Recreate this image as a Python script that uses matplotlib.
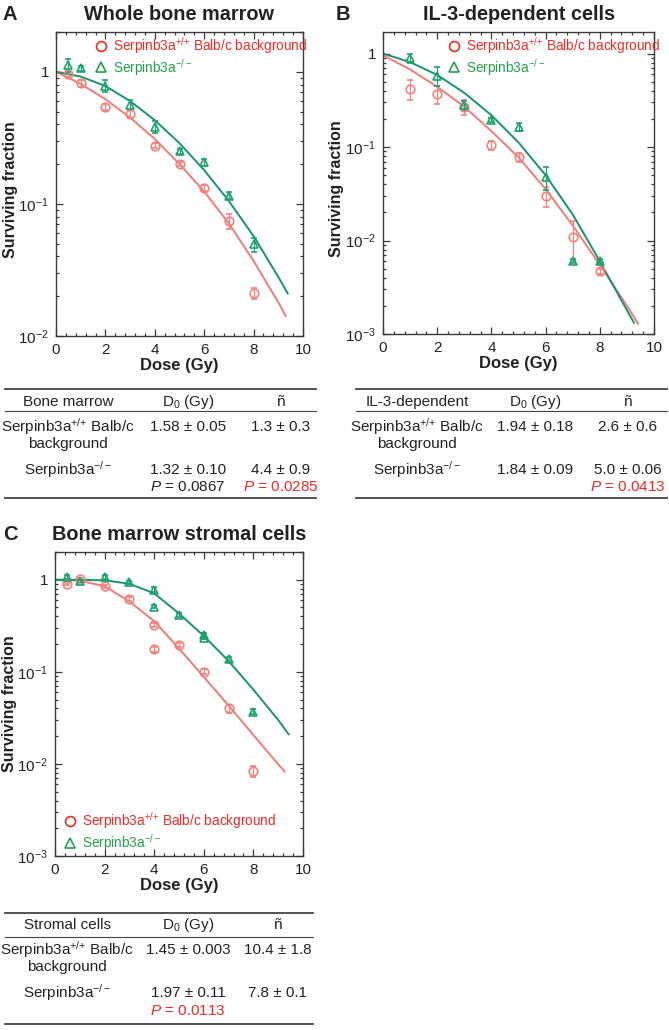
import numpy as np
import matplotlib
matplotlib.use('Agg')
import matplotlib.pyplot as plt
from matplotlib.lines import Line2D
from matplotlib.ticker import MultipleLocator, LogLocator, NullFormatter, FuncFormatter

plt.rcParams['font.family'] = ['Liberation Sans', 'DejaVu Sans']
plt.rcParams['mathtext.fontset'] = 'custom'
plt.rcParams['mathtext.rm'] = 'Liberation Sans'
plt.rcParams['mathtext.it'] = 'Liberation Sans:italic'
plt.rcParams['mathtext.bf'] = 'Liberation Sans:bold'

# ---------------- data ----------------
# Panel A: whole bone marrow
a_wt_dose = [0.5, 1, 2, 3, 4, 5, 6, 7, 8]
a_wt_sf = [0.97, 0.82, 0.54, 0.48, 0.276, 0.20, 0.132, 0.074, 0.021]
a_wt_err = [0.05, 0.05, 0.03, 0.03, 0.012, 0.008, 0.007, 0.01, 0.002]
a_ko_dose = [0.5, 1, 2, 3, 4, 5, 6, 7, 8]
a_ko_sf = [1.12, 1.06, 0.78, 0.56, 0.385, 0.25, 0.206, 0.115, 0.0495]
a_ko_err = [0.12, 0.05, 0.08, 0.05, 0.04, 0.012, 0.012, 0.007, 0.006]
a_wt_fit_dose = [0, 1, 2, 3, 4, 5, 6, 7, 8, 9, 9.3]
a_wt_fit = [1.0, 0.81, 0.62, 0.45, 0.31, 0.20, 0.124, 0.071, 0.037, 0.018, 0.0142]
a_ko_fit_dose = [0, 1, 2, 3, 4, 5, 6, 7, 8, 9, 9.38]
a_ko_fit = [1.0, 0.92, 0.78, 0.60, 0.43, 0.288, 0.18, 0.105, 0.057, 0.028, 0.021]

# Panel B: IL-3-dependent cells
b_wt_dose = [1, 2, 3, 4, 5, 6, 7, 8]
b_wt_sf = [0.42, 0.37, 0.27, 0.105, 0.078, 0.030, 0.011, 0.0047]
b_wt_err = [0.10, 0.08, 0.05, 0.012, 0.008, 0.007, 0.005, 0.0003]
b_ko_dose = [1, 2, 3, 4, 5, 6, 7, 8]
b_ko_sf = [0.90, 0.58, 0.28, 0.195, 0.165, 0.048, 0.006, 0.006]
b_ko_err = [0.10, 0.13, 0.03, 0.01, 0.015, 0.013, 0.0003, 0.0003]
b_wt_fit_dose = [0, 1, 2, 3, 4, 5, 6, 7, 8, 9, 9.41]
b_wt_fit = [0.96, 0.676, 0.44, 0.27, 0.148, 0.0776, 0.0355, 0.0145, 0.0055, 0.0020, 0.00129]
b_ko_fit_dose = [0, 1, 2, 3, 4, 5, 6, 7, 8, 9, 9.26]
b_ko_fit = [1.0, 0.81, 0.59, 0.38, 0.219, 0.112, 0.050, 0.019, 0.006, 0.0018, 0.00132]

# Panel C: bone marrow stromal cells
c_wt_dose = [0.5, 1, 2, 3, 4, 4, 5, 6, 7, 8]
c_wt_sf = [0.90, 1.02, 0.85, 0.62, 0.32, 0.176, 0.194, 0.10, 0.040, 0.0084]
c_wt_err = [0.03, 0.03, 0.03, 0.03, 0.015, 0.01, 0.01, 0.006, 0.004, 0.0012]
c_ko_dose = [0.5, 1, 2, 3, 4, 4, 5, 6, 6, 7, 8]
c_ko_sf = [1.07, 0.96, 1.08, 0.935, 0.78, 0.51, 0.41, 0.25, 0.235, 0.137, 0.037]
c_ko_err = [0.05, 0.04, 0.05, 0.03, 0.05, 0.02, 0.02, 0.015, 0.01, 0.008, 0.002]
c_wt_fit_dose = [0, 1, 2, 3, 4, 5, 6, 7, 8, 9, 9.26]
c_wt_fit = [1.0, 0.975, 0.85, 0.58, 0.355, 0.179, 0.088, 0.043, 0.0206, 0.0099, 0.0083]
c_ko_fit_dose = [0, 1, 2, 3, 4, 5, 6, 7, 8, 9, 9.42]
c_ko_fit = [1.0, 0.998, 0.985, 0.905, 0.71, 0.43, 0.245, 0.131, 0.064, 0.030, 0.021]

legend_labels = [r'Serpinb3a$^{{+}/{+}}$ Balb/c background', r'Serpinb3a$^{-/-}$']

table_a = [["Bone marrow", r"D$_0$ (Gy)", "ñ"],
           [r"Serpinb3a$^{{+}/{+}}$ Balb/c", "1.58 ± 0.05", "1.3 ± 0.3"],
           [r"Serpinb3a$^{-/-}$", "1.32 ± 0.10", "4.4 ± 0.9"]]
table_a_p = [r"$P$ = 0.0867", r"$P$ = 0.0285"]
table_b = [["IL-3-dependent", r"D$_0$ (Gy)", "ñ"],
           [r"Serpinb3a$^{{+}/{+}}$ Balb/c", "1.94 ± 0.18", "2.6 ± 0.6"],
           [r"Serpinb3a$^{-/-}$", "1.84 ± 0.09", "5.0 ± 0.06"]]
table_b_p = [None, r"$P$ = 0.0413"]
table_c = [["Stromal cells", r"D$_0$ (Gy)", "ñ"],
           [r"Serpinb3a$^{{+}/{+}}$ Balb/c", "1.45 ± 0.003", "10.4 ± 1.8"],
           [r"Serpinb3a$^{-/-}$", "1.97 ± 0.11", "7.8 ± 0.1"]]
table_c_p = [r"$P$ = 0.0113", None]

# ---------------- style ----------------
W, H = 669, 1030
RED_M = '#f0837d'
RED_L = '#f07c78'
RED_T = '#ee2b25'
GRN_M = '#1ea36c'
GRN_L = '#17946e'
GRN_T = '#25a04a'
AX_C = '#3a3a3a'
TXT = '#222222'

fig = plt.figure(figsize=(W / 100, H / 100), dpi=100)


def add_axes_px(l, t, r, b):
    return fig.add_axes([l / W, 1 - b / H, (r - l) / W, (b - t) / H])


def ytick_fmt(v, pos):
    e = int(round(np.log10(v)))
    if e == 0:
        return '1'
    return r'$10^{%d}$' % e


def style(ax, ymin, ymax):
    ax.set_yscale('log')
    ax.set_xlim(0, 10)
    ax.set_ylim(ymin, ymax)
    ax.xaxis.set_major_locator(MultipleLocator(2))
    ax.xaxis.set_minor_locator(MultipleLocator(0.4))
    ax.yaxis.set_major_locator(LogLocator(base=10, numticks=10))
    ax.yaxis.set_minor_locator(LogLocator(base=10, subs=np.arange(2, 10), numticks=20))
    ax.yaxis.set_minor_formatter(NullFormatter())
    ax.yaxis.set_major_formatter(FuncFormatter(ytick_fmt))
    ax.tick_params(which='both', direction='in', top=True, right=True,
                   color=AX_C, width=0.9)
    ax.tick_params(which='major', length=5, labelsize=11, pad=5, labelcolor=TXT)
    ax.tick_params(which='minor', length=2.5)
    for s in ax.spines.values():
        s.set_linewidth(1.0)
        s.set_color(AX_C)
    ax.set_xlabel('Dose (Gy)', fontsize=12, fontweight='bold', labelpad=1, color=TXT)
    ax.set_ylabel('Surviving fraction', fontsize=11.5, fontweight='bold', color=TXT)


def draw(ax, wd, ws, we, kd, ks, ke, wfd, wf, kfd, kf):
    ax.plot(wfd, wf, color=RED_L, lw=1.4, zorder=2)
    ax.plot(kfd, kf, color=GRN_L, lw=1.4, zorder=2)
    h1 = ax.errorbar(wd, ws, yerr=we, fmt='o', mfc='none', mec=RED_M, ecolor=RED_M,
                     ms=6.2, mew=1.2, capsize=2.5, elinewidth=0.9, capthick=0.9, zorder=3)
    h2 = ax.errorbar(kd, ks, yerr=ke, fmt='^', mfc='none', mec=GRN_M, ecolor=GRN_M,
                     ms=6.2, mew=1.2, capsize=2.5, elinewidth=0.9, capthick=0.9, zorder=3)
    return h1[0], h2[0]


def legend(ax, handles, anchor, loc):
    leg = ax.legend(handles, legend_labels, loc=loc, bbox_to_anchor=anchor, frameon=False,
                    handlelength=0.8, handletextpad=0.45, labelspacing=0.05, fontsize=9.8,
                    labelcolor=[RED_T, GRN_T], borderpad=0, borderaxespad=0,
                    markerscale=1.15)
    for h, c in zip(leg.legend_handles, [RED_T, GRN_T]):
        h.set_markeredgecolor(c)


# Panel A
axA = add_axes_px(56, 32, 303, 336)
style(axA, 0.01, 2.0)
hA = draw(axA, a_wt_dose, a_wt_sf, a_wt_err, a_ko_dose, a_ko_sf, a_ko_err,
          a_wt_fit_dose, a_wt_fit, a_ko_fit_dose, a_ko_fit)
legend(axA, hA, (0.162, 0.99), 'upper left')
axA.yaxis.set_label_coords(-0.155, 0.48)

# Panel B
axB = add_axes_px(383, 32, 654, 334)
style(axB, 0.001, 1.7)
hB = draw(axB, b_wt_dose, b_wt_sf, b_wt_err, b_ko_dose, b_ko_sf, b_ko_err,
          b_wt_fit_dose, b_wt_fit, b_ko_fit_dose, b_ko_fit)
legend(axB, hB, (0.243, 0.99), 'upper left')
axB.yaxis.set_label_coords(-0.145, 0.48)

# Panel C
axC = add_axes_px(55, 552, 303, 856)
style(axC, 0.001, 2.0)
hC = draw(axC, c_wt_dose, c_wt_sf, c_wt_err, c_ko_dose, c_ko_sf, c_ko_err,
          c_wt_fit_dose, c_wt_fit, c_ko_fit_dose, c_ko_fit)
legend(axC, hC, (0.04, 0.01), 'lower left')
axC.yaxis.set_label_coords(-0.155, 0.5)


def ftext(x, y, s, **kw):
    fig.text(x / W, 1 - y / H, s, **kw)


# titles & letters
ftext(10, 15, 'A', fontsize=14.5, fontweight='bold', ha='center', va='center', color=TXT)
ftext(179, 15, 'Whole bone marrow', fontsize=14.3, fontweight='bold', ha='center', va='center', color=TXT)
ftext(343, 15, 'B', fontsize=14.5, fontweight='bold', ha='center', va='center', color=TXT)
ftext(519, 15, 'IL-3-dependent cells', fontsize=14.3, fontweight='bold', ha='center', va='center', color=TXT)
ftext(10, 535, 'C', fontsize=14.5, fontweight='bold', ha='center', va='center', color=TXT)
ftext(179, 535, 'Bone marrow stromal cells', fontsize=14.3, fontweight='bold', ha='center', va='center', color=TXT)


def hline(x0, x1, y, lw):
    fig.add_artist(Line2D([x0 / W, x1 / W], [1 - y / H, 1 - y / H],
                          transform=fig.transFigure, color='#444444', lw=lw))


def table(rows, prow, pcolors, x0, x1, cols, ys):
    top, head, hl, r1, r1b, r2, rp, bot = ys
    hline(x0, x1, top, 1.3)
    hline(x0, x1, hl, 0.8)
    hline(x0, x1, bot, 1.3)
    fs = 11
    for c, s in zip(cols, rows[0]):
        ftext(c, head, s, fontsize=fs, ha='center', va='center', color=TXT)
    for c, s in zip(cols, rows[1]):
        ftext(c, r1, s, fontsize=fs, ha='center', va='center', color=TXT)
    ftext(cols[0], r1b, 'background', fontsize=fs, ha='center', va='center', color=TXT)
    for c, s in zip(cols, rows[2]):
        ftext(c, r2, s, fontsize=fs, ha='center', va='center', color=TXT)
    for c, s, col in zip(cols[1:], prow, pcolors):
        if s is not None:
            ftext(c, rp, s, fontsize=fs, ha='center', va='center', color=col)


ysAB = (389, 402, 411, 427, 444, 470, 487, 498)
table(table_a, table_a_p, [TXT, RED_T], 5, 316, (68, 188, 281), ysAB)
table(table_b, table_b_p, [TXT, RED_T], 356, 667, (417, 535, 628), ysAB)
ysC = (913, 925, 937, 950, 967, 993, 1011, 1024)
table(table_c, table_c_p, [RED_T, RED_T], 5, 313, (67, 188, 278), ysC)

fig.savefig('out.png', dpi=100)
